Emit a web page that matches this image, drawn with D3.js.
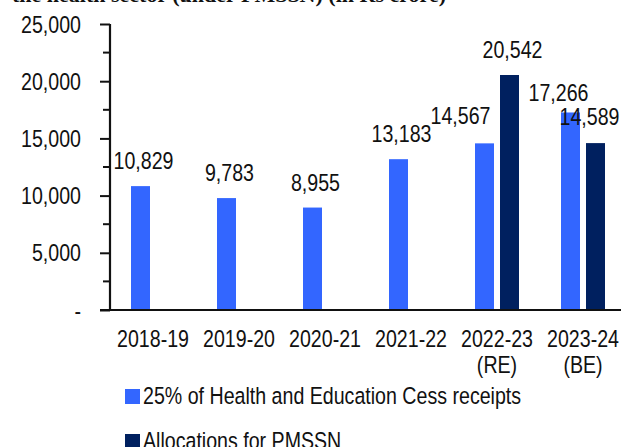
<!DOCTYPE html>
<html>
<head>
<meta charset="utf-8">
<script src="https://cdn.jsdelivr.net/npm/d3@7"></script>
<style>
html,body{margin:0;padding:0;background:#fff;overflow:hidden;}
svg{display:block;}
text{font-family:"Liberation Sans",Arial,sans-serif;fill:#111;}
</style>
</head>
<body>
<script>
const categories = [["2018-19"],["2019-20"],["2020-21"],["2021-22"],["2022-23","(RE)"],["2023-24","(BE)"]];
const cessValues = [10829, 9783, 8955, 13183, 14567, 17266];
const pmssnValues = [null, null, null, null, 20542, 14589];
const seriesNames = ["25% of Health and Education Cess receipts", "Allocations for PMSSN"];
const yTicks = [0, 5000, 10000, 15000, 20000, 25000];
const titleText = "the health sector (under PMSSN) (in Rs crore)";

const W = 621, H = 447;
const colors = ["#3366FF", "#00205F"];
const FS = 23.5;      // font size
const SX = 0.835;     // horizontal condensing (narrow look)

const svg = d3.select("body").append("svg").attr("width", W).attr("height", H);

function narrow(sel, px, py) {
  return sel.attr("transform", (d, i) => `translate(${px(d, i)},${py(d, i)}) scale(${SX},1)`)
    .attr("x", 0).attr("y", 0).style("font-size", FS + "px");
}

// clipped title (only its lower edge is visible in the reference)
svg.append("text").attr("x", 12).attr("y", 1.5)
  .style("font-family", "'Liberation Serif','Times New Roman',serif")
  .style("font-weight", "bold")
  .style("font-size", "22px").text(titleText);

const keys = categories.map(c => c.join(" "));
const x = d3.scaleBand().domain(keys).range([110, 626]).padding(0);
const y = d3.scaleLinear().domain([0, 25000]).range([310, 24]);

const barW = 19, gap = 6;
const groupW = barW * 2 + gap;

const data = [];
keys.forEach((k, i) => {
  [cessValues[i], pmssnValues[i]].forEach((v, s) => {
    if (v != null) data.push({k, s, v, i});
  });
});

function barX(d){ return x(d.k) + x.bandwidth()/2 - groupW/2 + d.s*(barW+gap); }

svg.append("g").selectAll("rect").data(data).join("rect")
  .attr("x", d => barX(d))
  .attr("y", d => y(d.v))
  .attr("width", barW)
  .attr("height", d => y(0) - y(d.v))
  .attr("fill", d => colors[d.s]);

// value labels (with manual nudges mimicking the original label placement)
const nudge = {"4-0": [-27, -2], "4-1": [0, 0], "5-0": [-15, 6], "5-1": [-9, -1]};
const nx = d => nudge[d.i+"-"+d.s] ? nudge[d.i+"-"+d.s][0] : 0;
const ny = d => nudge[d.i+"-"+d.s] ? nudge[d.i+"-"+d.s][1] : 0;
narrow(svg.append("g").selectAll("text").data(data).join("text"),
  d => barX(d) + barW/2 + 3 + nx(d),
  d => y(d.v) - 17 + ny(d))
  .attr("text-anchor", "middle")
  .text(d => d3.format(",")(d.v));

// y axis
const yAxis = svg.append("g").attr("transform", "translate(110,0)");
const minor = d3.range(2500, 25000, 5000);
yAxis.selectAll("line.minor").data(minor).join("line")
  .attr("x1", -7).attr("x2", 0).attr("y1", d => y(d)).attr("y2", d => y(d))
  .attr("stroke", "#111").attr("stroke-width", 2);
yAxis.call(d3.axisLeft(y).tickValues(yTicks).tickSize(10).tickPadding(19)
  .tickFormat(d => d === 0 ? "-" : d3.format(",")(d)));
yAxis.select(".domain").attr("stroke", "#111").attr("stroke-width", 2.2).attr("d", "M0,24V311");
yAxis.selectAll(".tick line").attr("stroke", "#111").attr("stroke-width", 2);
yAxis.selectAll(".tick text")
  .attr("x", null).attr("dy", null)
  .attr("transform", `translate(-29,0) scale(${SX},1)`)
  .attr("dominant-baseline", "central")
  .style("font-size", FS + "px").attr("fill", "#111")
  .style("font-family", "'Liberation Sans',Arial,sans-serif");

// baseline
svg.append("line").attr("x1", 100).attr("x2", 621).attr("y1", y(0)).attr("y2", y(0))
  .attr("stroke", "#111").attr("stroke-width", 2.2);

// x labels
const xg = svg.append("g").selectAll("g").data(categories).join("g")
  .attr("transform", (c, i) => `translate(${x(keys[i]) + x.bandwidth()/2},0)`);
xg.selectAll("text").data(c => c).join("text")
  .attr("transform", (d, j) => `translate(0,${347 + j*26}) scale(${SX},1)`)
  .attr("text-anchor", "middle")
  .style("font-size", FS + "px")
  .text(d => d);

// legend
const lg = svg.append("g").selectAll("g").data(seriesNames).join("g")
  .attr("transform", (d, i) => `translate(125,${389 + i*45})`);
lg.append("rect").attr("width", 15).attr("height", 15).attr("fill", (d, i) => colors[i]);
lg.append("text").attr("transform", `translate(18,15) scale(${SX},1)`)
  .style("font-size", FS + "px").text(d => d);
</script>
</body>
</html>
